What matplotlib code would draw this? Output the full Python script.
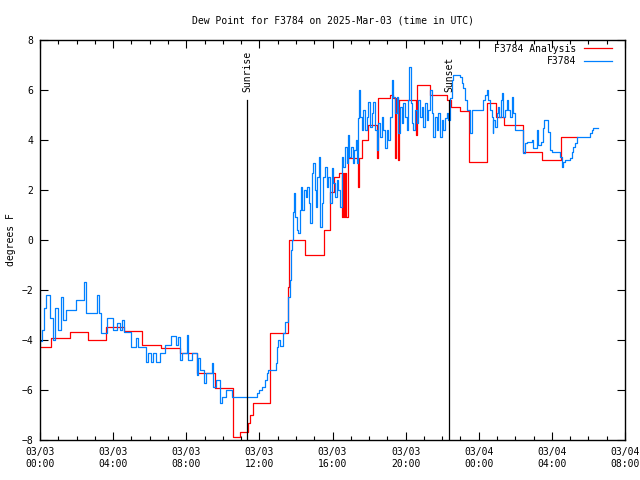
import matplotlib
matplotlib.use("Agg")
import matplotlib.pyplot as plt
from matplotlib.ticker import MultipleLocator

# hours since 2025-03-03 00:00 UTC and dew point values (deg F)
analysis_hours = [0.0, 0.6, 1.64, 2.63, 3.6, 4.6, 5.58, 6.6, 7.66, 8.6, 9.57, 10.56, 10.94,
                  11.38, 11.5, 11.65, 12.58, 13.55, 13.6, 14.5, 15.55, 15.86, 16.1, 16.35,
                  16.5, 16.55, 16.65, 16.7, 16.75, 16.85, 17.4, 17.45, 17.6, 17.95, 18.45,
                  18.5, 19.15, 19.3, 19.4, 19.45, 19.6, 19.65, 20.55, 20.6, 21.33, 22.25,
                  22.5, 22.98, 23.45, 24.45, 24.95, 25.4, 26.4, 27.45, 28.5, 29.4]
analysis_vals = [-4.28, -3.92, -3.68, -4.0, -3.48, -3.64, -4.2, -4.32, -4.52, -5.32, -5.92,
                 -7.88, -7.68, -7.32, -7.0, -6.52, -3.72, -1.88, 0.0, -0.6, 0.4, 1.92, 2.52,
                 2.68, 0.92, 2.68, 0.92, 2.68, 0.92, 3.28, 2.12, 3.28, 4.0, 4.6, 3.28, 5.68,
                 5.8, 5.68, 3.28, 5.68, 3.2, 5.6, 4.2, 6.2, 5.8, 5.6, 5.32, 5.16, 3.12, 5.48,
                 4.92, 4.6, 3.52, 3.2, 4.12, 4.12]

obs_hours = [0.0, 0.12, 0.22, 0.33, 0.55, 0.7, 0.82, 0.98, 1.15, 1.26, 1.42, 1.97, 2.4, 2.5,
             3.1, 3.2, 3.35, 3.67, 4.0, 4.2, 4.35, 4.5, 4.6, 5.0, 5.25, 5.36, 5.8, 5.9, 6.05,
             6.2, 6.35, 6.56, 6.84, 7.17, 7.45, 7.55, 7.66, 7.77, 8.04, 8.1, 8.3, 8.6, 8.65,
             8.75, 8.97, 9.1, 9.4, 9.46, 9.6, 9.85, 9.95, 10.2, 10.5, 11.87, 12.0, 12.15,
             12.3, 12.4, 12.47, 12.9, 12.97, 13.02, 13.13, 13.3, 13.4, 13.57, 13.65, 13.73,
             13.79, 13.84, 13.88,
             13.95, 14.04, 14.13, 14.22, 14.26, 14.35, 14.44, 14.53, 14.62, 14.70, 14.77,
             14.86, 14.95, 15.03, 15.10, 15.17, 15.25, 15.32, 15.41, 15.50, 15.59, 15.68,
             15.77, 15.86, 15.96, 16.05, 16.14, 16.23, 16.32, 16.41, 16.50, 16.59, 16.68,
             16.78, 16.83, 16.92, 17.01, 17.10, 17.19, 17.29, 17.32, 17.38, 17.45, 17.52,
             17.60, 17.69, 17.78, 17.87, 17.96, 18.05, 18.15, 18.24, 18.33, 18.42, 18.51,
             18.60, 18.69, 18.78, 18.87, 18.97, 19.06, 19.15, 19.24, 19.33, 19.42, 19.51,
             19.60, 19.69, 19.79, 19.88, 19.97, 20.06, 20.15, 20.20, 20.28, 20.35, 20.42,
             20.51, 20.61, 20.70, 20.79, 20.88, 20.97, 21.06, 21.15, 21.24, 21.33, 21.43,
             21.52, 21.61, 21.70, 21.79, 21.88, 21.97, 22.06, 22.16, 22.25, 22.34, 22.43,
             22.52, 22.61, 22.88, 22.98, 23.07, 23.16, 23.25, 23.38, 23.52, 23.62,
             24.25, 24.34, 24.44, 24.53, 24.62, 24.71, 24.76, 24.80, 24.89, 24.98, 25.07,
             25.13, 25.20, 25.26, 25.35, 25.44, 25.53, 25.62, 25.71, 25.80, 25.89, 25.98,
             26.40, 26.44, 26.53, 26.62, 26.90, 26.99, 27.17, 27.26, 27.39, 27.50, 27.57,
             27.81, 27.90, 27.99, 28.45, 28.54, 28.63, 28.72, 28.99, 29.09, 29.18, 29.27,
             29.36, 30.09, 30.18, 30.27, 30.54]
obs_vals = [-4.04, -3.6, -2.72, -2.2, -3.12, -4.0, -2.72, -3.6, -2.28, -3.2, -2.8, -2.4,
            -1.68, -2.92, -2.2, -2.9, -3.72, -3.12, -3.6, -3.3, -3.6, -3.2, -3.68, -4.28,
            -3.9, -4.28, -4.88, -4.5, -4.88, -4.5, -4.88, -4.5, -4.2, -3.84, -4.2, -3.88,
            -4.8, -4.52, -3.8, -4.8, -4.52, -5.4, -4.72, -5.2, -5.72, -5.32, -4.92, -5.88,
            -5.6, -6.52, -6.28, -6.0, -6.28, -6.1, -6.0, -5.88, -5.6, -5.32, -5.2, -4.92,
            -4.28, -4.0, -4.24, -3.72, -3.28, -2.28, -1.6, -0.4, 0.0, 1.12, 1.88,
            0.92, 0.4, 0.28, 1.2, 2.12, 1.2, 2.0, 1.72, 2.12, 1.48, 0.68,
            2.68, 3.08, 2.0, 1.32, 2.52, 3.32, 0.52, 1.48, 2.52, 2.92, 2.12,
            2.52, 1.48, 2.88, 2.28, 1.72, 2.4, 2.0, 1.32, 3.32, 2.92, 3.72,
            3.08, 4.2, 3.32, 3.72, 3.08, 3.6, 4.0, 3.08, 4.88, 6.0, 4.92,
            4.4, 5.2, 4.4, 4.92, 5.52, 4.52, 5.08, 5.52, 4.4, 3.6, 4.68,
            4.12, 4.92, 4.4, 3.68, 4.4, 4.0, 4.92, 6.4, 5.72, 5.08, 5.72,
            4.28, 5.32, 4.68, 5.48, 4.92, 4.4, 5.6, 6.92, 5.48, 4.68, 4.4,
            5.2, 4.68, 5.6, 4.92, 5.32, 4.52, 5.48, 4.8, 5.2, 6.0, 5.08,
            4.12, 4.92, 4.4, 5.08, 4.12, 4.8, 4.4, 4.88, 5.08, 4.8, 5.68,
            6.4, 6.6, 6.6, 6.52, 6.28, 6.08, 5.6, 5.2, 4.28, 5.2,
            5.6, 5.8, 6.0, 5.6, 5.2, 4.92, 4.28, 4.8, 4.52, 5.08, 5.32,
            4.92, 5.6, 5.88, 4.92, 5.2, 5.6, 5.2, 4.92, 5.72, 5.08, 4.4,
            4.0, 3.48, 3.88, 3.92, 4.0, 3.68, 4.4, 3.8, 3.92, 4.48, 4.8,
            4.32, 3.6, 3.52, 3.32, 2.92, 3.12, 3.2, 3.28, 3.52, 3.72, 3.88,
            4.12, 4.28, 4.4, 4.48, 4.48]

sunrise_hour = 11.32
sunset_hour = 22.37

x_tick_hours = [0, 4, 8, 12, 16, 20, 24, 28, 32]
x_tick_labels = ["03/03\n00:00", "03/03\n04:00", "03/03\n08:00", "03/03\n12:00",
                 "03/03\n16:00", "03/03\n20:00", "03/04\n00:00", "03/04\n04:00",
                 "03/04\n08:00"]

plt.rcParams['font.family'] = ['DejaVu Sans Mono']
plt.rcParams['font.size'] = 7

fig = plt.figure(figsize=(6.4, 4.8), dpi=100)
ax = fig.add_axes([40 / 640, 40 / 480, 585 / 640, 400 / 480])

ax.plot(analysis_hours, analysis_vals, drawstyle='steps-post', color='#ff0000',
        linewidth=0.9, label='F3784 Analysis')
ax.plot(obs_hours, obs_vals, drawstyle='steps-post', color='#0080ff',
        linewidth=0.9, label='F3784')

# sunrise / sunset markers
for hr, name in [(sunrise_hour, 'Sunrise'), (sunset_hour, 'Sunset')]:
    ax.plot([hr, hr], [-8, 5.6], color='black', linewidth=0.9)
    ax.text(hr, 5.9, name, rotation=90, ha='center', va='bottom', fontsize=7)

ax.set_xlim(0, 32)
ax.set_ylim(-8, 8)
ax.set_xticks(x_tick_hours)
ax.set_xticklabels(x_tick_labels)
ax.xaxis.set_minor_locator(MultipleLocator(1))
ax.set_yticks(range(-8, 9, 2))
ax.tick_params(which='both', direction='in', top=True, right=True, width=0.8)
ax.tick_params(which='major', length=6, pad=5)
ax.tick_params(which='minor', length=3)
for s in ax.spines.values():
    s.set_linewidth(1.0)

ax.set_ylabel('degrees F')
ax.set_title('Dew Point for F3784 on 2025-Mar-03 (time in UTC)', fontsize=7, pad=12)

ax.legend(loc='upper right', bbox_to_anchor=(0.985, 1.0), frameon=False,
          markerfirst=False, handlelength=2.9, borderaxespad=0, labelspacing=0.25,
          handletextpad=0.8)

plt.savefig('out.png', dpi=100)
